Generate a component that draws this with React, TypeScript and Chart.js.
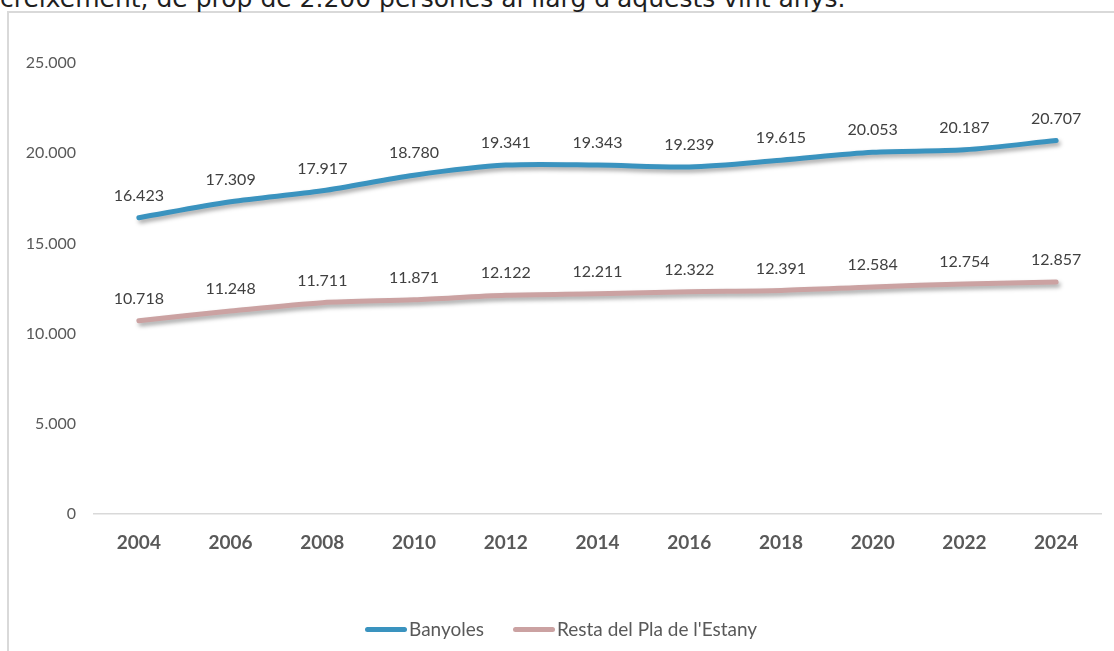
import React, { useEffect, useRef } from "react";
import { Chart, registerables } from "chart.js";

Chart.register(...registerables);

const years = ["2004", "2006", "2008", "2010", "2012", "2014", "2016", "2018", "2020", "2022", "2024"];
const banyoles = [16423, 17309, 17917, 18780, 19341, 19343, 19239, 19615, 20053, 20187, 20707];
const resta = [10718, 11248, 11711, 11871, 12122, 12211, 12322, 12391, 12584, 12754, 12857];
const seriesNames = ["Banyoles", "Resta del Pla de l'Estany"];
const seriesColors = ["#3A93BF", "#CBA2A2"];
const headingText = "creixement, de prop de 2.200 persones al llarg d'aquests vint anys.";

const fmt = (v: number) => String(v).replace(/\B(?=(\d{3})+(?!\d))/g, ".");

const FONT = "Lato, 'Open Sans', sans-serif";

const shadowPlugin = {
  id: "lineShadow",
  beforeDatasetDraw(chart: any) {
    const ctx = chart.ctx;
    ctx.save();
    ctx.shadowColor = "rgba(0,0,0,0.35)";
    ctx.shadowBlur = 4;
    ctx.shadowOffsetX = 2;
    ctx.shadowOffsetY = 3;
  },
  afterDatasetDraw(chart: any) {
    chart.ctx.restore();
  },
};

const labelPlugin = {
  id: "valueLabels",
  afterDatasetsDraw(chart: any) {
    const ctx = chart.ctx;
    ctx.save();
    ctx.font = `16px ${FONT}`;
    ctx.fillStyle = "#404040";
    ctx.textAlign = "center";
    ctx.textBaseline = "middle";
    chart.data.datasets.forEach((ds: any, i: number) => {
      const meta = chart.getDatasetMeta(i);
      meta.data.forEach((pt: any, j: number) => {
        ctx.fillText(fmt(ds.data[j]), pt.x, pt.y - 22);
      });
    });
    ctx.restore();
  },
};

export default function App() {
  const ref = useRef<HTMLCanvasElement | null>(null);

  useEffect(() => {
    document.body.style.margin = "0";
    if (!ref.current) return;
    const chart = new Chart(ref.current, {
      type: "line",
      data: {
        labels: years,
        datasets: [
          {
            label: seriesNames[0],
            data: banyoles,
            borderColor: seriesColors[0],
            backgroundColor: seriesColors[0],
            borderWidth: 5,
            pointRadius: 0,
            tension: 0.3,
            borderCapStyle: "round",
            borderJoinStyle: "round",
          },
          {
            label: seriesNames[1],
            data: resta,
            borderColor: seriesColors[1],
            backgroundColor: seriesColors[1],
            borderWidth: 5,
            pointRadius: 0,
            tension: 0.3,
            borderCapStyle: "round",
            borderJoinStyle: "round",
          },
        ],
      },
      options: {
        animation: false,
        responsive: false,
        layout: { padding: { left: 0, right: 12, top: 63, bottom: 77 } },
        plugins: {
          legend: { display: false },
          tooltip: { enabled: false },
        },
        scales: {
          x: {
            offset: true,
            grid: { display: false, drawTicks: false, offset: true },
            border: { display: false },
            ticks: {
              padding: 17,
              color: "#595959",
              font: { family: FONT, size: 19, weight: "bold" },
            },
            afterFit: (s: any) => {
              s.height = 60;
            },
          },
          y: {
            min: 0,
            max: 25000,
            grid: {
              drawTicks: false,
              color: (c: any) => (c.tick && c.tick.value === 0 ? "#d9d9d9" : "rgba(0,0,0,0)"),
              lineWidth: 1.5,
            },
            border: { display: false },
            ticks: {
              stepSize: 5000,
              padding: 17,
              color: "#595959",
              font: { family: FONT, size: 16 },
              callback: (v: any) => fmt(Number(v)),
            },
            afterFit: (s: any) => {
              s.width = 93;
            },
          },
        },
      },
      plugins: [shadowPlugin, labelPlugin],
    } as any);
    return () => chart.destroy();
  }, []);

  return (
    <div style={{ position: "relative", width: 1114, height: 651, overflow: "hidden", background: "#fff" }}>
      <div
        style={{
          position: "absolute",
          left: 7,
          top: 11,
          width: 1200,
          height: 700,
          borderTop: "2px solid #d9d9d9",
          borderLeft: "2px solid #d9d9d9",
        }}
      />
      <div
        style={{
          position: "absolute",
          left: 0,
          top: -14,
          fontFamily: "'DejaVu Sans', sans-serif",
          fontSize: 25,
          lineHeight: "25px",
          color: "#1f1f1f",
          whiteSpace: "nowrap",
        }}
      >
        {headingText}
      </div>
      <canvas ref={ref} width={1114} height={651} style={{ position: "absolute", left: 0, top: 0 }} />
      <div
        style={{
          position: "absolute",
          left: 365,
          top: 617,
          display: "flex",
          alignItems: "center",
          fontFamily: FONT,
          fontSize: 19,
          color: "#595959",
          lineHeight: "24px",
        }}
      >
        {seriesNames.map((n, i) => (
          <div key={n} style={{ display: "flex", alignItems: "center", marginRight: 29 }}>
            <div style={{ width: 42, height: 5, borderRadius: 3, background: seriesColors[i], marginRight: 2 }} />
            <span>{n}</span>
          </div>
        ))}
      </div>
    </div>
  );
}
